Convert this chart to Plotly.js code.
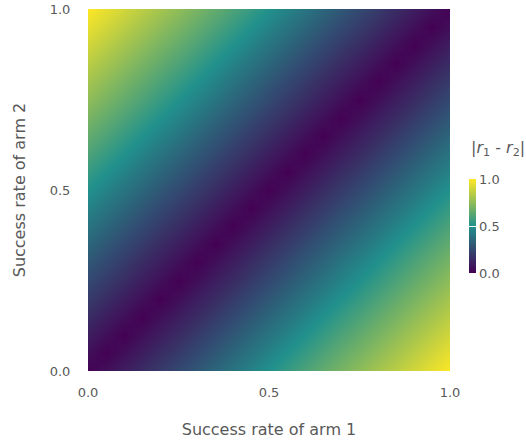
<!DOCTYPE html>
<html>
<head>
<meta charset="utf-8">
<script src="https://cdn.plot.ly/plotly-3.0.1.min.js"></script>
<style>html,body{margin:0;padding:0;background:#fff;}#chart{width:526px;height:443px;}</style>
</head>
<body>
<div id="chart"></div>
<script>
// success rate of arm 1 (x) and arm 2 (y)
var rate1 = [0, 0.05, 0.1, 0.15, 0.2, 0.25, 0.3, 0.35, 0.4, 0.45, 0.5, 0.55, 0.6, 0.65, 0.7, 0.75, 0.8, 0.85, 0.9, 0.95, 1.0];
var rate2 = [0, 0.05, 0.1, 0.15, 0.2, 0.25, 0.3, 0.35, 0.4, 0.45, 0.5, 0.55, 0.6, 0.65, 0.7, 0.75, 0.8, 0.85, 0.9, 0.95, 1.0];
// |r1 - r2| ; rows follow rate2, columns follow rate1
var absDiff = [
  [0.00,0.05,0.10,0.15,0.20,0.25,0.30,0.35,0.40,0.45,0.50,0.55,0.60,0.65,0.70,0.75,0.80,0.85,0.90,0.95,1.00],
  [0.05,0.00,0.05,0.10,0.15,0.20,0.25,0.30,0.35,0.40,0.45,0.50,0.55,0.60,0.65,0.70,0.75,0.80,0.85,0.90,0.95],
  [0.10,0.05,0.00,0.05,0.10,0.15,0.20,0.25,0.30,0.35,0.40,0.45,0.50,0.55,0.60,0.65,0.70,0.75,0.80,0.85,0.90],
  [0.15,0.10,0.05,0.00,0.05,0.10,0.15,0.20,0.25,0.30,0.35,0.40,0.45,0.50,0.55,0.60,0.65,0.70,0.75,0.80,0.85],
  [0.20,0.15,0.10,0.05,0.00,0.05,0.10,0.15,0.20,0.25,0.30,0.35,0.40,0.45,0.50,0.55,0.60,0.65,0.70,0.75,0.80],
  [0.25,0.20,0.15,0.10,0.05,0.00,0.05,0.10,0.15,0.20,0.25,0.30,0.35,0.40,0.45,0.50,0.55,0.60,0.65,0.70,0.75],
  [0.30,0.25,0.20,0.15,0.10,0.05,0.00,0.05,0.10,0.15,0.20,0.25,0.30,0.35,0.40,0.45,0.50,0.55,0.60,0.65,0.70],
  [0.35,0.30,0.25,0.20,0.15,0.10,0.05,0.00,0.05,0.10,0.15,0.20,0.25,0.30,0.35,0.40,0.45,0.50,0.55,0.60,0.65],
  [0.40,0.35,0.30,0.25,0.20,0.15,0.10,0.05,0.00,0.05,0.10,0.15,0.20,0.25,0.30,0.35,0.40,0.45,0.50,0.55,0.60],
  [0.45,0.40,0.35,0.30,0.25,0.20,0.15,0.10,0.05,0.00,0.05,0.10,0.15,0.20,0.25,0.30,0.35,0.40,0.45,0.50,0.55],
  [0.50,0.45,0.40,0.35,0.30,0.25,0.20,0.15,0.10,0.05,0.00,0.05,0.10,0.15,0.20,0.25,0.30,0.35,0.40,0.45,0.50],
  [0.55,0.50,0.45,0.40,0.35,0.30,0.25,0.20,0.15,0.10,0.05,0.00,0.05,0.10,0.15,0.20,0.25,0.30,0.35,0.40,0.45],
  [0.60,0.55,0.50,0.45,0.40,0.35,0.30,0.25,0.20,0.15,0.10,0.05,0.00,0.05,0.10,0.15,0.20,0.25,0.30,0.35,0.40],
  [0.65,0.60,0.55,0.50,0.45,0.40,0.35,0.30,0.25,0.20,0.15,0.10,0.05,0.00,0.05,0.10,0.15,0.20,0.25,0.30,0.35],
  [0.70,0.65,0.60,0.55,0.50,0.45,0.40,0.35,0.30,0.25,0.20,0.15,0.10,0.05,0.00,0.05,0.10,0.15,0.20,0.25,0.30],
  [0.75,0.70,0.65,0.60,0.55,0.50,0.45,0.40,0.35,0.30,0.25,0.20,0.15,0.10,0.05,0.00,0.05,0.10,0.15,0.20,0.25],
  [0.80,0.75,0.70,0.65,0.60,0.55,0.50,0.45,0.40,0.35,0.30,0.25,0.20,0.15,0.10,0.05,0.00,0.05,0.10,0.15,0.20],
  [0.85,0.80,0.75,0.70,0.65,0.60,0.55,0.50,0.45,0.40,0.35,0.30,0.25,0.20,0.15,0.10,0.05,0.00,0.05,0.10,0.15],
  [0.90,0.85,0.80,0.75,0.70,0.65,0.60,0.55,0.50,0.45,0.40,0.35,0.30,0.25,0.20,0.15,0.10,0.05,0.00,0.05,0.10],
  [0.95,0.90,0.85,0.80,0.75,0.70,0.65,0.60,0.55,0.50,0.45,0.40,0.35,0.30,0.25,0.20,0.15,0.10,0.05,0.00,0.05],
  [1.00,0.95,0.90,0.85,0.80,0.75,0.70,0.65,0.60,0.55,0.50,0.45,0.40,0.35,0.30,0.25,0.20,0.15,0.10,0.05,0.00]
];
var tickVals = [0, 0.5, 1.0];
var tickText = ['0.0', '0.5', '1.0'];
var cbTickVals = [0, 0.5, 1.0];
var cbTickText = ['0.0', '0.5', '1.0'];

var textColor = '#595959';
var fontFam = 'DejaVu Sans, sans-serif';

var trace = {
  type: 'heatmap',
  x: rate1,
  y: rate2,
  z: absDiff,
  zmin: 0,
  zmax: 1,
  zsmooth: 'best',
  colorscale: [[0, '#440154'], [0.5, '#21918c'], [1, '#fde725']],
  colorbar: {
    thickness: 7,
    thicknessmode: 'pixels',
    len: 94,
    lenmode: 'pixels',
    x: 1.0525,
    xanchor: 'left',
    xpad: 0,
    y: 0.2707,
    yanchor: 'bottom',
    ypad: 0,
    outlinewidth: 0,
    ticks: 'inside',
    ticklen: 7,
    tickcolor: '#ffffff',
    tickwidth: 1,
    tickvals: cbTickVals,
    ticktext: cbTickText,
    tickfont: {size: 13, color: textColor, family: fontFam}
  }
};

var layout = {
  width: 526,
  height: 443,
  margin: {l: 88, r: 76, t: 9, b: 72, autoexpand: false},
  paper_bgcolor: '#ffffff',
  plot_bgcolor: '#ffffff',
  font: {family: fontFam, color: textColor, size: 13},
  xaxis: {
    range: [0, 1],
    tickvals: tickVals,
    ticktext: tickText,
    ticks: 'outside',
    ticklen: 9,
    tickcolor: 'rgba(0,0,0,0)',
    showgrid: false,
    zeroline: false,
    showline: false,
    tickfont: {size: 13, color: textColor},
    title: {text: 'Success rate of arm 1', font: {size: 16, color: textColor}, standoff: 25}
  },
  yaxis: {
    range: [0, 1],
    tickvals: tickVals,
    ticktext: tickText,
    ticks: 'outside',
    ticklen: 14,
    tickcolor: 'rgba(0,0,0,0)',
    showgrid: false,
    zeroline: false,
    showline: false,
    tickfont: {size: 13, color: textColor},
    title: {text: 'Success rate of arm 2', font: {size: 16, color: textColor}, standoff: 20}
  },
  annotations: [{
    text: '|<i>r</i><sub>1</sub> - <i>r</i><sub>2</sub>|',
    xref: 'paper', yref: 'paper',
    x: 1.0525, y: 0.616,
    xanchor: 'left', yanchor: 'middle',
    showarrow: false,
    font: {size: 16, color: textColor, family: fontFam}
  }]
};

Plotly.newPlot('chart', [trace], layout, {displayModeBar: false, staticPlot: true});
</script>
</body>
</html>
